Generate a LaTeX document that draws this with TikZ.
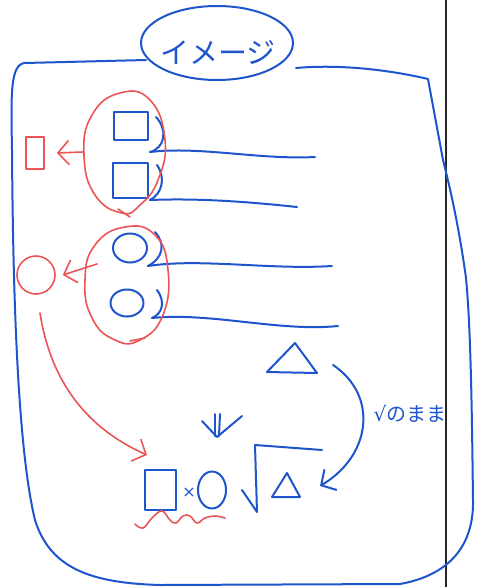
\documentclass[tikz,border=0pt]{standalone}
\usepackage{fontspec}
\newfontfamily\jp{Noto Sans CJK JP}
\newfontfamily\dv{DejaVu Sans}
\usetikzlibrary{shapes.geometric,arrows.meta}
\definecolor{pen}{RGB}{30,85,205}
\definecolor{redpen}{RGB}{235,85,85}
\begin{document}
\begin{tikzpicture}[x=1pt,y=-1pt,line cap=round,line join=round,
  bluel/.style={draw=pen,line width=2pt},
  redl/.style={draw=redpen,line width=1.6pt},
  barb/.style={-{Straight Barb[length=11pt,width=24pt]}},
  bshape/.style={bluel,inner sep=0pt},
  rshape/.style={redl,inner sep=0pt}]
\useasboundingbox (0,0) rectangle (481,587);
\fill[white] (0,0) rectangle (481,587);
% separator line
\draw[line width=2.6pt,black!85] (446,0) -- (446,587);
% title
\node[bshape,ellipse,minimum width=152pt,minimum height=74pt] (title) at (217,43) {};
\node[text=pen,font=\jp\fontsize{29}{29}\selectfont] (titletxt) at (218,52) {イメージ};
% big loop
\coordinate (loopA) at (146,60);
\coordinate (loopB) at (296,68);
\draw[bluel] (loopA) -- (25,63) .. controls (10,64) and (11,95) .. (12,150)
  .. controls (13,300) and (18,450) .. (35,520)
  .. controls (50,568) and (90,583) .. (160,585) -- (400,584)
  .. controls (450,575) and (474,545) .. (473,500)
  .. controls (472,420) and (471,330) .. (466,278)
  .. controls (458,220) and (448,180) .. (443,160) -- (428,79)
  .. controls (390,70) and (340,64) .. (loopB);
% group 1: squares
\node[bshape,minimum width=34pt,minimum height=28pt] (sqA) at (131,126) {};
\node[bshape,minimum width=35pt,minimum height=35pt] (sqB) at (130,180) {};
% group 2: circles
\node[bshape,ellipse,minimum width=34pt,minimum height=29pt] (ciA) at (130,248) {};
\node[bshape,ellipse,minimum width=33pt,minimum height=27pt] (ciB) at (127,303) {};
% brackets and lines
\coordinate (e1) at (315,157);
\coordinate (e2) at (297,207);
\coordinate (e3) at (332,266);
\coordinate (e4) at (338,326);
\draw[bluel] (156,117) .. controls (168,130) and (165,148) .. (150,152);
\draw[bluel] (150,152) .. controls (200,146) and (260,160) .. (e1);
\draw[bluel] (157,165) .. controls (166,178) and (162,194) .. (150,200);
\draw[bluel] (150,200) .. controls (200,198) and (250,202) .. (e2);
\draw[bluel] (155,232) .. controls (166,244) and (163,258) .. (148,266);
\draw[bluel] (148,266) .. controls (200,258) and (270,270) .. (e3);
\draw[bluel] (157,290) .. controls (166,302) and (162,314) .. (152,318);
\draw[bluel] (152,318) .. controls (210,312) and (280,332) .. (e4);
% red groups
\draw[redl] plot[smooth cycle,tension=0.8] coordinates {(120,93) (150,100) (165,140) (158,180) (140,205) (122,213) (95,195) (84,155) (92,115)};
\draw[redl] (118,209) -- (130,217);
\draw[redl] plot[smooth cycle,tension=0.8] coordinates {(125,227) (155,235) (168,270) (163,315) (140,340) (115,340) (92,318) (85,280) (95,245)};
\draw[redl] (130,341) -- (145,338);
\coordinate (r1) at (83,152);
\coordinate (r2) at (97,264);
\node[rshape,minimum width=18pt,minimum height=32pt] (rrect) at (35,153) {};
\node[rshape,circle,minimum size=38pt] (rcirc) at (36,275) {};
\draw[redl,barb] (r1) -- ([xshift=12pt]rrect.east);
\draw[redl,barb] (r2) -- ([xshift=7pt]rcirc.east);
% bottom expression
\node[bshape,minimum width=31pt,minimum height=40pt] (sqC) at (160,490) {};
\node[text=pen,font=\dv\fontsize{16}{16}\selectfont] (times) at (189,493) {×};
\node[bshape,ellipse,minimum width=28pt,minimum height=37pt] (ciC) at (212,490) {};
\coordinate (rs) at (40,313);
\coordinate (rt) at (147,455);
\draw[redl,barb] (rs) .. controls (52,390) and (95,432) .. (rt);
\draw[redl] plot[smooth,tension=0.7] coordinates {(135,524) (143,528) (152,518) (162,511) (170,520) (176,523) (183,516) (190,516) (197,523) (205,518) (215,516) (225,518)};
% sqrt triangle
\coordinate (s1) at (242,490);
\coordinate (s2) at (257,512);
\coordinate (s3) at (255,445);
\coordinate (s4) at (322,450);
\draw[bluel] (s1) -- (s2) -- (s3) -- (s4);
\coordinate (tb1) at (272,497);
\coordinate (tb2) at (300,497);
\coordinate (tb3) at (287,473);
\draw[bluel] (tb1) -- (tb2) -- (tb3) -- cycle;
% top triangle
\coordinate (ta1) at (267,372);
\coordinate (ta2) at (317,373);
\coordinate (ta3) at (295,343);
\draw[bluel] (ta1) -- (ta2) -- (ta3) -- cycle;
% curved arrow
\coordinate (ca) at (333,365);
\coordinate (cb) at (320,486);
\draw[bluel,barb] (ca) .. controls (378,395) and (372,455) .. (cb);
\node[text=pen,font=\jp\fontsize{20}{20}\selectfont,inner sep=0pt] (keep) at (410,414) {{\dv √}のまま};
% double down arrow
\coordinate (d1) at (215,414);
\coordinate (d2) at (220,414);
\coordinate (dt) at (217,437);
\draw[bluel] (d1) -- (215,436);
\draw[bluel] (d2) -- (219,436);
\draw[bluel] (202,421) -- (dt) -- (242,416);
\end{tikzpicture}
\end{document}
